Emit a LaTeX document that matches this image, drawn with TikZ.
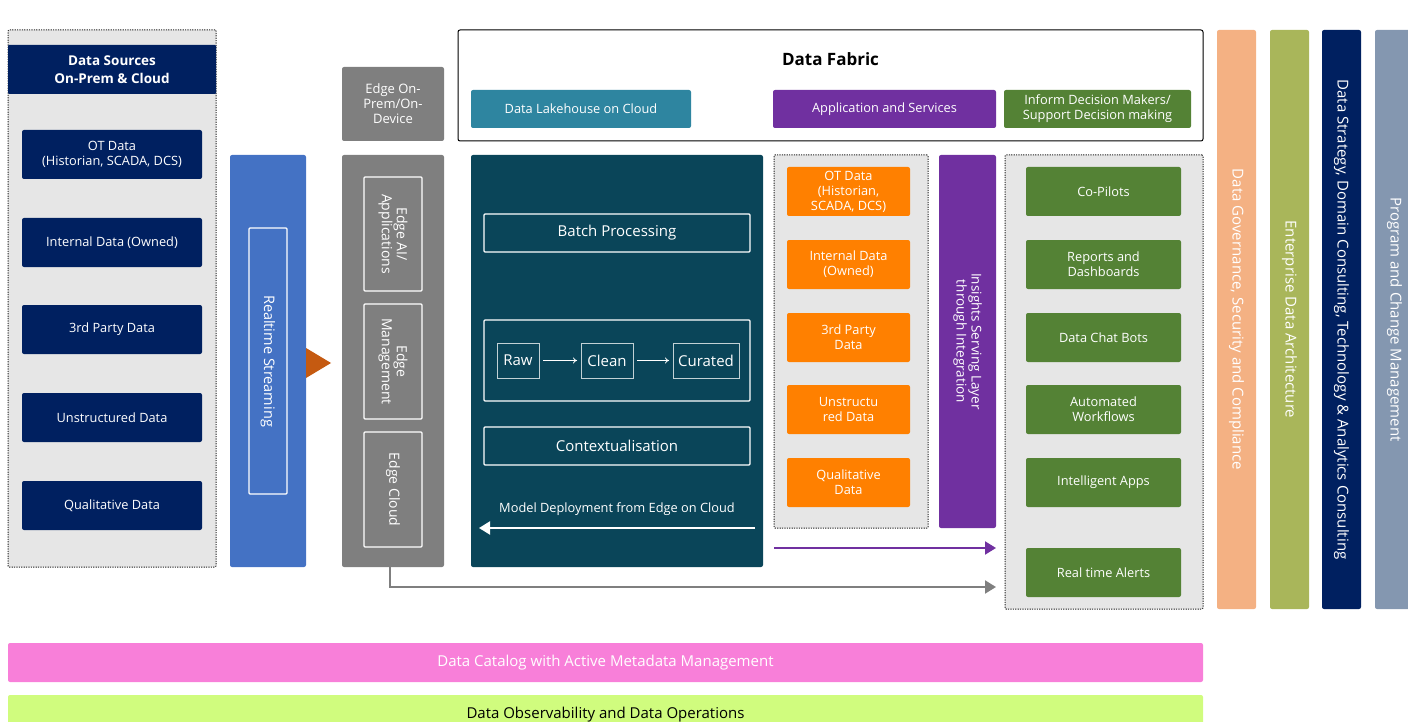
\documentclass[tikz,border=0pt]{standalone}
\usepackage{fontspec}
\setmainfont{Open Sans}
\usetikzlibrary{arrows.meta}
\definecolor{navy}{HTML}{002060}
\definecolor{bggray}{HTML}{E6E6E6}
\definecolor{rtblue}{HTML}{4472C4}
\definecolor{tri}{HTML}{C55A11}
\definecolor{edgegray}{HTML}{7F7F7F}
\definecolor{lake}{HTML}{2E85A0}
\definecolor{purp}{HTML}{7030A0}
\definecolor{grn}{HTML}{548235}
\definecolor{teal}{HTML}{0A4559}
\definecolor{orng}{HTML}{FF8000}
\definecolor{gov}{HTML}{F4B183}
\definecolor{ent}{HTML}{A9B65A}
\definecolor{prog}{HTML}{8497B0}
\definecolor{pink}{HTML}{F87FD9}
\definecolor{lime}{HTML}{D0FC7E}
\tikzset{
  base/.style={inner sep=0pt, outer sep=0pt, rounded corners=2pt, align=center, text=white, font=\fontsize{12.8}{15}\selectfont},
  grp/.style={base, fill=bggray, draw=black!85, dash pattern=on 1.2pt off 1.2pt, line width=1pt, rounded corners=1pt},
  src/.style={base, fill=navy, minimum width=180pt, minimum height=49pt},
  orbox/.style={base, fill=orng, minimum width=123pt, minimum height=49pt},
  gnbox/.style={base, fill=grn, minimum width=155pt, minimum height=49pt},
  wbox/.style={base, rounded corners=1pt, draw=white, line width=1.1pt},
  stagebox/.style={base, rounded corners=0pt, draw=white!75!teal, line width=0.8pt, minimum height=35pt, font=\fontsize{15}{17}\selectfont},
  vbar/.style={base, rotate=-90, minimum width=579pt, minimum height=39pt, font=\fontsize{15}{17}\selectfont},
  hdr/.style={base, minimum height=38pt},
  thinarrow/.style={draw=white, line width=0.8pt, -{To[length=4pt,width=6pt]}, shorten <=4pt, shorten >=4pt},
  fatarrow/.style={line width=2pt, -{Triangle[length=11pt,width=13pt]}}
}
\begin{document}
\begin{tikzpicture}[x=1pt,y=-1pt]
\useasboundingbox (0,0) rectangle (1408,722);

% Data sources
\node[grp, minimum width=208pt, minimum height=537pt] (srcgrp) at (112,298.5) {};
\node[base, fill=navy, rounded corners=1pt, minimum width=208pt, minimum height=49pt, font=\bfseries\fontsize{13.5}{18}\selectfont] (srchdr) at (112,69.5) {Data Sources\\On-Prem \& Cloud};
\node[src] (s1) at (112,154.5) {OT Data\\(Historian, SCADA, DCS)};
\node[src] (s2) at (112,242.5) {Internal Data (Owned)};
\node[src] (s3) at (112,329.5) {3rd Party Data};
\node[src] (s4) at (112,417.5) {Unstructured Data};
\node[src] (s5) at (112,505.5) {Qualitative Data};

% Realtime streaming
\node[base, fill=rtblue, minimum width=76pt, minimum height=412pt] (rt) at (268,361) {};
\node[wbox, rotate=-90, minimum width=266pt, minimum height=38pt, font=\fontsize{14.5}{15}\selectfont] (rtin) at (268,361) {Realtime Streaming};
\fill[tri] (306,348) -- (331,363) -- (306,378) -- cycle;

% Edge
\node[base, fill=edgegray, minimum width=102pt, minimum height=74pt, font=\fontsize{13}{15}\selectfont] (edgehdr) at (393,104) {Edge On-\\Prem/On-\\Device};
\node[base, fill=edgegray, minimum width=102pt, minimum height=412pt] (edgecol) at (393,361) {};
\node[wbox, rotate=-90, minimum width=114pt, minimum height=58pt, font=\fontsize{14}{15}\selectfont] (eai) at (393,234) {Edge AI/\\Applications};
\node[wbox, rotate=-90, minimum width=115pt, minimum height=58pt, font=\fontsize{14}{15}\selectfont] (emg) at (393,361.5) {Edge\\Management};
\node[wbox, rotate=-90, minimum width=115pt, minimum height=58pt, font=\fontsize{14}{15}\selectfont] (ecl) at (393,489.5) {Edge Cloud};

% Data fabric header
\node[base, fill=white, draw=black, line width=1pt, minimum width=745pt, minimum height=111pt] (df) at (830.5,85.5) {};
\node[base, text=black, font=\bfseries\fontsize{17}{20}\selectfont] (dft) at (830.5,59) {Data Fabric};
\node[hdr, fill=lake, minimum width=220pt] (lakeh) at (581,109) {Data Lakehouse on Cloud};
\node[hdr, fill=purp, minimum width=223pt] (apph) at (884.5,109) {Application and Services};
\node[hdr, fill=grn, minimum width=187pt] (infh) at (1097.5,109) {Inform Decision Makers/\\Support Decision making};

% Teal panel
\node[base, fill=teal, minimum width=292pt, minimum height=412pt] (lake) at (617,361) {};
\node[wbox, minimum width=266pt, minimum height=38pt, font=\fontsize{15}{17}\selectfont] (batch) at (617,233) {Batch Processing};
\node[wbox, minimum width=266pt, minimum height=81pt] (flow) at (617,360.5) {};
\node[stagebox, minimum width=42pt] (raw) at (518,360.5) {Raw};
\node[stagebox, minimum width=52pt] (clean) at (607,360.5) {Clean};
\node[stagebox, minimum width=66pt] (cur) at (706,360.5) {Curated};
\draw[thinarrow] (raw) -- (clean);
\draw[thinarrow] (clean) -- (cur);
\node[wbox, minimum width=266pt, minimum height=38pt, font=\fontsize{15}{17}\selectfont] (ctx) at (617,446) {Contextualisation};
\node[base] (mdl) at (617,509) {Model Deployment from Edge on Cloud};
\coordinate (md1) at (755,528);
\coordinate (md2) at (479,528);
\draw[fatarrow, draw=white] (md1) -- (md2);

% Orange group
\node[grp, minimum width=154pt, minimum height=373pt] (orgrp) at (851,341.5) {};
\node[orbox] (o1) at (848.5,191.5) {OT Data\\(Historian,\\SCADA, DCS)};
\node[orbox] (o2) at (848.5,264.5) {Internal Data\\(Owned)};
\node[orbox] (o3) at (848.5,337.5) {3rd Party\\Data};
\node[orbox] (o4) at (848.5,409.5) {Unstructu\\red Data};
\node[orbox] (o5) at (848.5,482.5) {Qualitative\\Data};

% Insights serving layer
\node[base, fill=purp, rotate=-90, minimum width=373pt, minimum height=57pt, font=\fontsize{13.5}{15}\selectfont] (ins) at (967.5,341.5) {Insights Serving Layer\\through Integration};

% Green group
\node[grp, minimum width=198pt, minimum height=454pt] (gngrp) at (1104,382) {};
\node[gnbox] (g1) at (1103.5,191.5) {Co-Pilots};
\node[gnbox] (g2) at (1103.5,264.5) {Reports and\\Dashboards};
\node[gnbox] (g3) at (1103.5,337.5) {Data Chat Bots};
\node[gnbox] (g4) at (1103.5,409.5) {Automated\\Workflows};
\node[gnbox] (g5) at (1103.5,482.5) {Intelligent Apps};
\node[gnbox] (g6) at (1103.5,572.5) {Real time Alerts};

% Arrows to consumption
\coordinate (pa1) at (774,548);
\coordinate (pa2) at (996,548);
\draw[fatarrow, draw=purp] (pa1) -- (pa2);
\coordinate (ga2) at (996,587);
\draw[fatarrow, draw=edgegray] ([xshift=-3pt]edgecol.south) |- (ga2);

% Vertical bars
\node[vbar, fill=gov] (vgov) at (1236.5,319.5) {Data Governance, Security and Compliance};
\node[vbar, fill=ent] (vent) at (1289.5,319.5) {Enterprise Data Architecture};
\node[vbar, fill=navy] (vstr) at (1341.5,319.5) {Data Strategy, Domain Consulting, Technology \& Analytics Consulting};
\node[vbar, fill=prog] (vprog) at (1394.5,319.5) {Program and Change Management};

% Bottom bars
\node[base, fill=pink, minimum width=1195pt, minimum height=39pt, font=\fontsize{15}{17}\selectfont] (cat) at (605.5,662.5) {Data Catalog with Active Metadata Management};
\node[base, fill=lime, text=black, minimum width=1195pt, minimum height=40pt, font=\fontsize{15}{17}\selectfont] (obs) at (605.5,715) {Data Observability and Data Operations};
\end{tikzpicture}
\end{document}
